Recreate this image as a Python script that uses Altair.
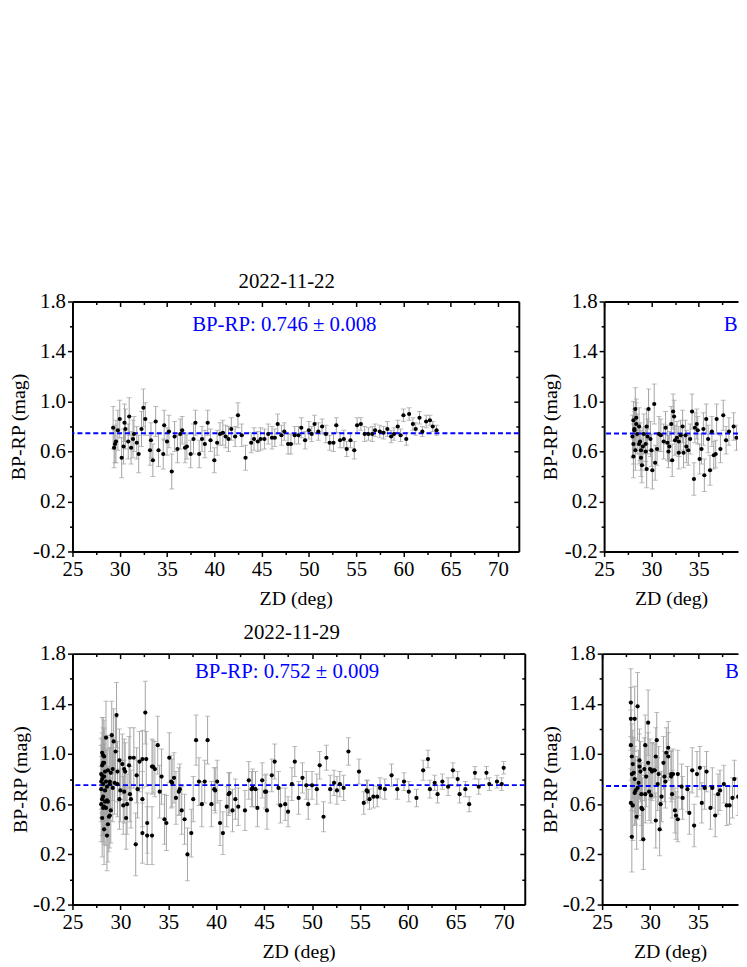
import altair as alt
import pandas as pd

FONT = "Liberation Serif"

# ---------------- tick values ----------------
x_ticks = [25, 27.5, 30, 32.5, 35, 37.5, 40, 42.5, 45, 47.5, 50, 52.5, 55, 57.5, 60, 62.5, 65, 67.5, 70]
y_ticks = [-0.2, 0.0, 0.2, 0.4, 0.6, 0.8, 1.0, 1.2, 1.4, 1.6, 1.8]

# ---------------- panel A: 2022-11-22 ----------------
zd_a = [29.3, 29.4, 29.5, 29.6, 29.8, 30.0, 30.2, 30.4, 30.5, 30.6, 30.9, 31.0, 31.2, 31.4, 31.5, 31.8,
        32.0, 32.3, 32.5, 32.7, 33.2, 33.3, 33.5, 33.8, 34.1, 34.6, 34.7, 35.0, 35.2, 35.5, 35.8, 36.1,
        36.4, 36.6, 36.9, 37.1, 37.5, 37.8, 38.0, 38.4, 38.7, 39.0, 39.3, 39.6, 40.0, 40.3, 40.6, 40.9,
        41.2, 41.5, 41.8, 42.2, 42.5, 42.9, 43.3, 43.9, 44.2, 44.6, 44.9, 45.3, 45.7, 46.1, 46.4, 46.7,
        47.1, 47.4, 47.8, 48.1, 48.5, 48.9, 49.2, 49.6, 50.0, 50.3, 50.6, 51.0, 51.4, 51.8, 52.2, 52.6,
        52.9, 53.3, 53.7, 54.0, 54.4, 54.8, 55.1, 55.5, 55.9, 56.3, 56.7, 57.0, 57.5, 57.9, 58.3, 58.7,
        59.0, 59.4, 59.7, 60.0, 60.3, 60.6, 61.0, 61.3, 61.7, 62.0, 62.4, 62.8, 63.1, 63.5]
bp_a = [0.79, 0.63, 0.66, 0.68, 0.77, 0.86, 0.55, 0.64, 0.83, 0.78, 0.68, 0.88, 0.63, 0.70, 0.74, 0.67,
        0.58, 0.78, 0.95, 0.86, 0.61, 0.69, 0.53, 0.84, 0.61, 0.58, 0.81, 0.68, 0.76, 0.44, 0.72, 0.62,
        0.74, 0.77, 0.63, 0.64, 0.58, 0.70, 0.83, 0.58, 0.70, 0.66, 0.83, 0.69, 0.53, 0.67, 0.74, 0.75,
        0.72, 0.70, 0.78, 0.72, 0.89, 0.73, 0.55, 0.67, 0.70, 0.68, 0.70, 0.70, 0.74, 0.71, 0.71, 0.82,
        0.73, 0.76, 0.66, 0.66, 0.73, 0.73, 0.79, 0.69, 0.77, 0.74, 0.82, 0.76, 0.80, 0.74, 0.67, 0.67,
        0.81, 0.69, 0.70, 0.62, 0.69, 0.61, 0.81, 0.82, 0.74, 0.74, 0.74, 0.77, 0.76, 0.75, 0.78, 0.72,
        0.74, 0.80, 0.73, 0.89, 0.70, 0.90, 0.82, 0.78, 0.87, 0.76, 0.84, 0.85, 0.80, 0.77]
err_a = [0.17, 0.16, 0.15, 0.17, 0.16, 0.15, 0.16, 0.14, 0.15, 0.16, 0.14, 0.15, 0.13, 0.15, 0.14, 0.13,
         0.15, 0.14, 0.15, 0.13, 0.12, 0.14, 0.13, 0.12, 0.13, 0.12, 0.12, 0.11, 0.13, 0.14, 0.12, 0.11,
         0.12, 0.11, 0.12, 0.10, 0.11, 0.12, 0.10, 0.11, 0.10, 0.11, 0.10, 0.09, 0.10, 0.10, 0.09, 0.10,
         0.09, 0.10, 0.09, 0.08, 0.10, 0.09, 0.10, 0.08, 0.09, 0.08, 0.09, 0.08, 0.08, 0.09, 0.07, 0.08,
         0.08, 0.07, 0.08, 0.08, 0.07, 0.07, 0.08, 0.07, 0.07, 0.06, 0.07, 0.07, 0.06, 0.07, 0.06, 0.07,
         0.06, 0.06, 0.07, 0.06, 0.06, 0.07, 0.06, 0.05, 0.06, 0.05, 0.06, 0.05, 0.05, 0.05, 0.06, 0.05,
         0.05, 0.05, 0.05, 0.05, 0.05, 0.05, 0.05, 0.05, 0.05, 0.04, 0.05, 0.04, 0.04, 0.04]

# ---------------- panel C: top-right (cut by the page edge) ----------------
zd_c = [28.0, 28.1, 28.1, 28.1, 28.2, 28.2, 28.3, 28.3, 28.4, 28.4, 28.5, 28.7, 28.7, 28.8, 28.9, 28.9,
        29.0, 29.1, 29.2, 29.4, 29.4, 29.5, 29.5, 29.6, 29.7, 29.9, 30.0, 30.1, 30.3, 30.4, 30.6, 30.8,
        31.0, 31.3, 31.5, 31.7, 31.8, 31.9, 32.1, 32.2, 32.3, 32.4, 32.5, 32.7, 32.9, 32.9, 33.1, 33.3,
        33.4, 33.6, 33.7, 33.9, 34.1, 34.3, 34.5, 34.6, 34.8, 34.9, 35.1, 35.3, 35.5, 35.6, 35.8, 36.0,
        36.2, 36.4, 36.6, 36.8, 36.9, 37.3, 37.6, 37.9, 38.2, 38.7, 39.0]
bp_c = [0.72, 0.85, 0.66, 0.56, 0.77, 0.78, 0.94, 0.61, 0.87, 0.82, 0.74, 0.80, 0.66, 0.68, 0.61, 0.55,
        0.49, 0.64, 0.74, 0.66, 0.60, 0.80, 0.46, 0.72, 0.94, 0.70, 0.61, 0.45, 0.98, 0.51, 0.62, 0.74,
        0.73, 0.68, 0.79, 0.67, 0.60, 0.64, 0.82, 0.53, 0.92, 0.88, 0.69, 0.71, 0.68, 0.59, 0.73, 0.80,
        0.59, 0.73, 0.64, 0.61, 0.70, 0.92, 0.38, 0.79, 0.82, 0.77, 0.54, 0.62, 0.78, 0.41, 0.86, 0.70,
        0.45, 0.76, 0.57, 0.58, 0.86, 0.62, 0.89, 0.69, 0.76, 0.80, 0.71]
err_c = [0.17, 0.15, 0.16, 0.17, 0.15, 0.16, 0.17, 0.16, 0.15, 0.17, 0.16, 0.15, 0.16, 0.15, 0.16, 0.15,
         0.14, 0.15, 0.16, 0.14, 0.15, 0.14, 0.15, 0.14, 0.16, 0.14, 0.13, 0.15, 0.16, 0.14, 0.13, 0.14,
         0.13, 0.14, 0.13, 0.14, 0.13, 0.12, 0.14, 0.13, 0.14, 0.13, 0.12, 0.13, 0.12, 0.13, 0.12, 0.13,
         0.12, 0.12, 0.13, 0.12, 0.12, 0.14, 0.13, 0.12, 0.12, 0.11, 0.12, 0.12, 0.13, 0.13, 0.12, 0.11,
         0.12, 0.12, 0.11, 0.11, 0.12, 0.11, 0.12, 0.11, 0.11, 0.11, 0.10]

# ---------------- panel B: 2022-11-29 ----------------
zd_b = [28.0, 28.0, 28.0, 28.0, 28.1, 28.1, 28.1, 28.1, 28.1, 28.1, 28.2, 28.2, 28.2, 28.2, 28.2, 28.3,
        28.3, 28.3, 28.3, 28.3, 28.4, 28.4, 28.4, 28.5, 28.5, 28.5, 28.6, 28.6, 28.6, 28.7, 28.7, 28.7,
        28.8, 28.9, 28.9, 28.9, 29.0, 29.0, 29.1, 29.2, 29.2, 29.3, 29.4, 29.5, 29.6, 29.7, 29.7, 29.9,
        29.9, 30.0, 30.2, 30.3, 30.4, 30.4, 30.5, 30.6, 30.7, 30.9, 31.0, 31.0, 31.1, 31.4, 31.6, 31.7,
        31.8, 32.0, 32.3, 32.3, 32.3, 32.6, 32.7, 32.8, 32.8, 33.3, 33.3, 33.4, 33.6, 33.9, 34.1, 34.3,
        34.6, 34.8, 35.1, 35.3, 35.4, 35.6, 35.8, 36.1, 36.2, 36.4, 36.7, 37.0, 37.4, 37.6, 37.9, 38.2,
        38.5, 38.8, 39.1, 39.5, 39.8, 39.9, 40.1, 40.4, 40.7, 41.1, 41.3, 41.4, 41.7, 42.0, 42.3, 43.0,
        43.4, 43.7, 43.8, 44.1, 44.3, 44.8, 45.1, 45.2, 45.3, 45.8, 46.1, 46.5, 46.7, 47.2, 47.5, 47.9,
        48.2, 48.6, 49.0, 49.4, 49.6, 50.0, 50.5, 50.8, 51.2, 51.5, 51.9, 52.3, 52.6, 52.9, 53.3, 53.8,
        54.9, 55.4, 55.7, 55.8, 56.0, 56.4, 56.8, 57.1, 57.6, 58.3, 58.9, 59.6, 60.1, 60.9, 61.6, 62.1,
        62.3, 62.8, 63.1, 63.6, 64.2, 64.7, 65.2, 65.4, 66.0, 66.4, 67.0, 67.4, 68.2, 68.5, 69.3, 69.8,
        70.0]
bp_b = [0.60, 0.84, 0.72, 0.78, 1.01, 0.83, 0.80, 0.64, 0.49, 0.91, 0.93, 0.99, 0.57, 0.76, 0.66, 0.93,
        0.98, 0.40, 0.82, 0.58, 0.86, 0.71, 0.62, 1.13, 0.57, 0.78, 0.35, 0.63, 0.74, 0.87, 0.44, 0.62,
        0.50, 0.51, 0.76, 0.78, 0.85, 0.55, 1.15, 0.88, 0.73, 1.10, 0.77, 1.02, 1.31, 0.86, 0.76, 0.95,
        0.64, 0.71, 0.92, 0.59, 0.70, 0.88, 0.86, 0.49, 0.60, 0.91, 0.97, 0.68, 0.64, 0.97, 0.28, 0.83,
        0.72, 0.94, 0.96, 0.64, 0.37, 1.33, 0.96, 0.35, 0.45, 0.90, 0.35, 0.90, 0.88, 1.07, 0.70, 0.82,
        0.48, 0.45, 0.97, 0.78, 0.77, 0.81, 0.65, 0.70, 0.72, 0.55, 0.48, 0.20, 0.37, 0.64, 1.11, 0.78,
        0.60, 0.78, 1.11, 0.60, 0.72, 0.71, 0.78, 0.45, 0.37, 0.58, 0.68, 0.69, 0.55, 0.64, 0.58, 0.55,
        0.79, 0.72, 0.73, 0.72, 0.57, 0.79, 0.70, 0.70, 0.55, 0.83, 0.94, 0.73, 0.59, 0.60, 0.54, 0.76,
        0.94, 0.65, 0.81, 0.75, 0.60, 0.75, 0.72, 0.91, 0.50, 0.97, 0.72, 0.77, 0.71, 0.76, 0.73, 1.02,
        0.86, 0.61, 0.71, 0.70, 0.64, 0.66, 0.66, 0.73, 0.72, 0.83, 0.72, 0.78, 0.70, 0.65, 0.87, 0.96,
        0.72, 0.77, 0.68, 0.78, 0.74, 0.87, 0.80, 0.68, 0.72, 0.60, 0.85, 0.74, 0.85, 0.76, 0.78, 0.76,
        0.89]
err_b = [0.30, 0.28, 0.26, 0.29, 0.28, 0.30, 0.27, 0.29, 0.31, 0.26, 0.28, 0.30, 0.27, 0.29, 0.31, 0.27,
         0.29, 0.28, 0.26, 0.30, 0.28, 0.29, 0.27, 0.29, 0.30, 0.26, 0.28, 0.27, 0.29, 0.28, 0.30, 0.27,
         0.28, 0.26, 0.29, 0.27, 0.28, 0.26, 0.27, 0.25, 0.27, 0.26, 0.25, 0.27, 0.26, 0.24, 0.26, 0.25,
         0.24, 0.25, 0.24, 0.23, 0.25, 0.24, 0.23, 0.25, 0.24, 0.23, 0.24, 0.22, 0.23, 0.24, 0.25, 0.22,
         0.23, 0.24, 0.23, 0.22, 0.24, 0.25, 0.22, 0.23, 0.24, 0.22, 0.23, 0.21, 0.22, 0.23, 0.21, 0.22,
         0.20, 0.22, 0.20, 0.21, 0.19, 0.20, 0.21, 0.19, 0.20, 0.19, 0.20, 0.21, 0.19, 0.18, 0.20, 0.19,
         0.18, 0.17, 0.19, 0.18, 0.17, 0.18, 0.17, 0.18, 0.17, 0.16, 0.17, 0.16, 0.17, 0.16, 0.15, 0.16,
         0.15, 0.14, 0.15, 0.14, 0.15, 0.14, 0.13, 0.14, 0.15, 0.13, 0.14, 0.13, 0.14, 0.13, 0.12, 0.13,
         0.12, 0.13, 0.12, 0.11, 0.12, 0.11, 0.12, 0.11, 0.12, 0.10, 0.11, 0.10, 0.11, 0.10, 0.10, 0.11,
         0.10, 0.09, 0.08, 0.09, 0.08, 0.09, 0.08, 0.08, 0.08, 0.09, 0.08, 0.07, 0.08, 0.07, 0.08, 0.07,
         0.07, 0.06, 0.07, 0.06, 0.07, 0.06, 0.06, 0.07, 0.06, 0.06, 0.05, 0.06, 0.05, 0.05, 0.05, 0.05,
         0.05]

# ---------------- panel D: bottom-right (cut by the page edge) ----------------
zd_d = [28.0, 28.0, 28.4, 28.7, 28.0, 28.1, 28.2, 28.3, 28.4, 28.1, 28.0, 28.2, 28.1, 28.4, 28.5, 28.6,
        28.7, 28.8, 28.9, 28.9, 29.0, 29.1, 29.1, 29.2, 29.3, 29.4, 29.5, 29.5, 29.6, 29.8, 29.8, 29.9,
        30.0, 30.1, 30.2, 30.3, 30.5, 30.6, 30.7, 30.8, 30.6, 31.0, 30.9, 31.1, 31.2, 31.4, 31.5, 31.6,
        31.7, 31.9, 31.9, 32.2, 32.2, 32.4, 32.3, 32.6, 32.7, 32.9, 32.9, 33.3, 33.4, 33.9, 34.1, 34.4,
        34.6, 34.9, 35.2, 35.4, 35.7, 35.9, 36.3, 36.5, 36.8, 37.1, 37.3, 37.7, 38.0, 38.3, 38.6, 38.8,
        39.2]
bp_d = [1.41, 1.28, 1.28, 1.38, 1.07, 0.98, 0.92, 0.85, 0.80, 0.84, 0.61, 0.59, 0.34, 0.69, 0.71, 0.50,
        0.73, 0.77, 0.95, 0.90, 0.86, 0.68, 0.57, 0.56, 0.32, 0.88, 1.07, 0.68, 0.82, 1.25, 0.93, 0.70,
        0.88, 0.67, 0.86, 0.87, 0.87, 0.98, 1.11, 0.76, 0.47, 0.40, 0.84, 0.60, 0.66, 0.93, 0.82, 0.78,
        1.01, 1.05, 0.98, 0.82, 0.84, 0.84, 0.68, 0.55, 0.51, 0.48, 0.84, 0.74, 0.65, 0.72, 0.53, 0.87,
        0.43, 0.84, 0.89, 0.61, 0.73, 0.86, 0.57, 0.73, 0.51, 0.68, 0.71, 0.76, 0.59, 0.59, 0.65, 0.80,
        0.66]
err_d = [0.27, 0.25, 0.26, 0.27, 0.28, 0.26, 0.27, 0.28, 0.26, 0.29, 0.27, 0.28, 0.28, 0.26, 0.27, 0.26,
         0.25, 0.26, 0.25, 0.26, 0.24, 0.25, 0.26, 0.25, 0.24, 0.25, 0.24, 0.23, 0.24, 0.26, 0.24, 0.23,
         0.24, 0.22, 0.23, 0.22, 0.21, 0.23, 0.22, 0.21, 0.22, 0.21, 0.22, 0.21, 0.20, 0.21, 0.20, 0.21,
         0.20, 0.21, 0.19, 0.20, 0.19, 0.20, 0.19, 0.18, 0.19, 0.18, 0.19, 0.18, 0.17, 0.18, 0.17, 0.18,
         0.17, 0.18, 0.17, 0.16, 0.17, 0.16, 0.17, 0.16, 0.17, 0.16, 0.16, 0.15, 0.16, 0.15, 0.16, 0.15,
         0.15]

# ---------------- panel meta ----------------
titles = ["2022-11-22", " ", "2022-11-29", " "]
means = [0.746, 0.744, 0.752, 0.745]
labels = ["BP-RP: 0.746 \u00b1 0.008", "BP-RP: 0.744 \u00b1 0.009",
          "BP-RP: 0.752 \u00b1 0.009", "BP-RP: 0.745 \u00b1 0.011"]
label_y = [1.61, 1.61, 1.65, 1.65]
x_end = [72.2, 39.16, 72.2, 39.18]

X_MAJOR = "datum.value % 5 == 0"
Y_MAJOR = "abs((datum.value + 0.2) / 0.4 - round((datum.value + 0.2) / 0.4)) < 0.01"


def panel(zd, bp, err, mean, label, ly, title, xend, w, h, tdx, ytp, mirror_right, toff):
    df = pd.DataFrame({"zd": zd, "bp": bp,
                       "lo": [b - e for b, e in zip(bp, err)],
                       "hi": [b + e for b, e in zip(bp, err)]})
    xs = alt.Scale(domain=[25, xend], nice=False, zero=False)
    ys = alt.Scale(domain=[-0.2, 1.8], nice=False, zero=False)
    xv = [v for v in x_ticks if v <= xend]

    x_axis = alt.Axis(values=xv, title="ZD (deg)", grid=False, labelFlush=False,
                      labelExpr=f"{X_MAJOR} ? datum.label : ''",
                      tickSize=alt.ExprRef(expr=f"{X_MAJOR} ? 5 : 3"),
                      labelPadding=2, titlePadding=9)
    y_axis = alt.Axis(values=y_ticks, title="BP-RP (mag)", grid=False, labelFlush=False,
                      labelExpr=f"{Y_MAJOR} ? (datum.value < 0 ? '-' + format(-datum.value, '.1f') : format(datum.value, '.1f')) : ''",
                      tickSize=alt.ExprRef(expr=f"{Y_MAJOR} ? 5 : 3"),
                      labelPadding=2, titlePadding=ytp)
    x_top = alt.Axis(orient="top", values=xv, title=None, labels=False, grid=False, minExtent=0,
                     tickSize=alt.ExprRef(expr=f"{X_MAJOR} ? -5 : -3"))

    bars = alt.Chart(df).mark_errorbar(ticks=alt.MarkConfig(size=5), color="#a3a3a3", thickness=1,
                                       clip=True).encode(
        x=alt.X("zd:Q", scale=xs, axis=None),
        y=alt.Y("lo:Q", scale=ys, axis=None),
        y2="hi:Q")
    pts = alt.Chart(df).mark_circle(size=18, color="black", opacity=1, clip=True).encode(
        x=alt.X("zd:Q", scale=xs, axis=x_axis),
        y=alt.Y("bp:Q", scale=ys, axis=y_axis))
    if mirror_right:
        y_right = alt.Axis(orient="right", values=y_ticks, title=None, labels=False, grid=False,
                           minExtent=0,
                           tickSize=alt.ExprRef(expr=f"{Y_MAJOR} ? -5 : -3"))
        mirror = alt.Chart(df).mark_point(opacity=0, clip=True).encode(
            x=alt.X("zd:Q", scale=xs, axis=x_top),
            y=alt.Y("bp:Q", scale=ys, axis=y_right))
    else:
        mirror = alt.Chart(df).mark_point(opacity=0, clip=True).encode(
            x=alt.X("zd:Q", scale=xs, axis=x_top),
            y=alt.Y("bp:Q", scale=ys, axis=None))
    mdf = pd.DataFrame({"m": [mean]})
    rule = alt.Chart(mdf).mark_rule(color="#0000ff", strokeDash=[5, 3], strokeWidth=2).encode(
        y=alt.Y("m:Q", scale=ys, axis=None))
    tdf = pd.DataFrame({"x": [47.4], "y": [ly], "t": [label]})
    txt = alt.Chart(tdf).mark_text(font=FONT, fontSize=21, color="#0000ff", align="center",
                                   baseline="middle", clip=True).encode(
        x=alt.X("x:Q", scale=xs, axis=None),
        y=alt.Y("y:Q", scale=ys, axis=None),
        text="t:N")
    return alt.layer(bars, rule, pts, mirror, txt).resolve_axis(
        x="independent", y="independent").properties(
        width=w, height=h,
        title=alt.TitleParams(text=title, font=FONT, fontSize=21, fontWeight="normal",
                              anchor="middle", dx=tdx, offset=toff, baseline="alphabetic",
                              color="black"))


pA = panel(zd_a, bp_a, err_a, means[0], labels[0], label_y[0], titles[0], x_end[0], 450, 252, -9, 4, True, -18)
pC = panel(zd_c, bp_c, err_c, means[1], labels[1], label_y[1], titles[1], x_end[1], 135, 252, 0, 4, False, -18)
pB = panel(zd_b, bp_b, err_b, means[2], labels[2], label_y[2], titles[2], x_end[2], 456, 253, -7, 2, True, -17)
pD = panel(zd_d, bp_d, err_d, means[3], labels[3], label_y[3], titles[3], x_end[3], 137, 253, 0, 2, False, -17)

chart = alt.vconcat(
    alt.hconcat(pA, pC, spacing=20),
    alt.hconcat(pB, pD, spacing=14),
    spacing=14,
).properties(
    padding={"left": 0, "top": 261, "right": 0, "bottom": 0}
).configure_axis(
    labelFont=FONT, labelFontSize=21, labelColor="black",
    titleFont=FONT, titleFontSize=20, titleFontWeight="normal", titleColor="black",
    tickColor="black", tickWidth=1.5, domainColor="black", domainWidth=2,
).configure_view(
    strokeWidth=0
)

chart.save("out.html", embed_options={"renderer": "svg", "actions": False})
